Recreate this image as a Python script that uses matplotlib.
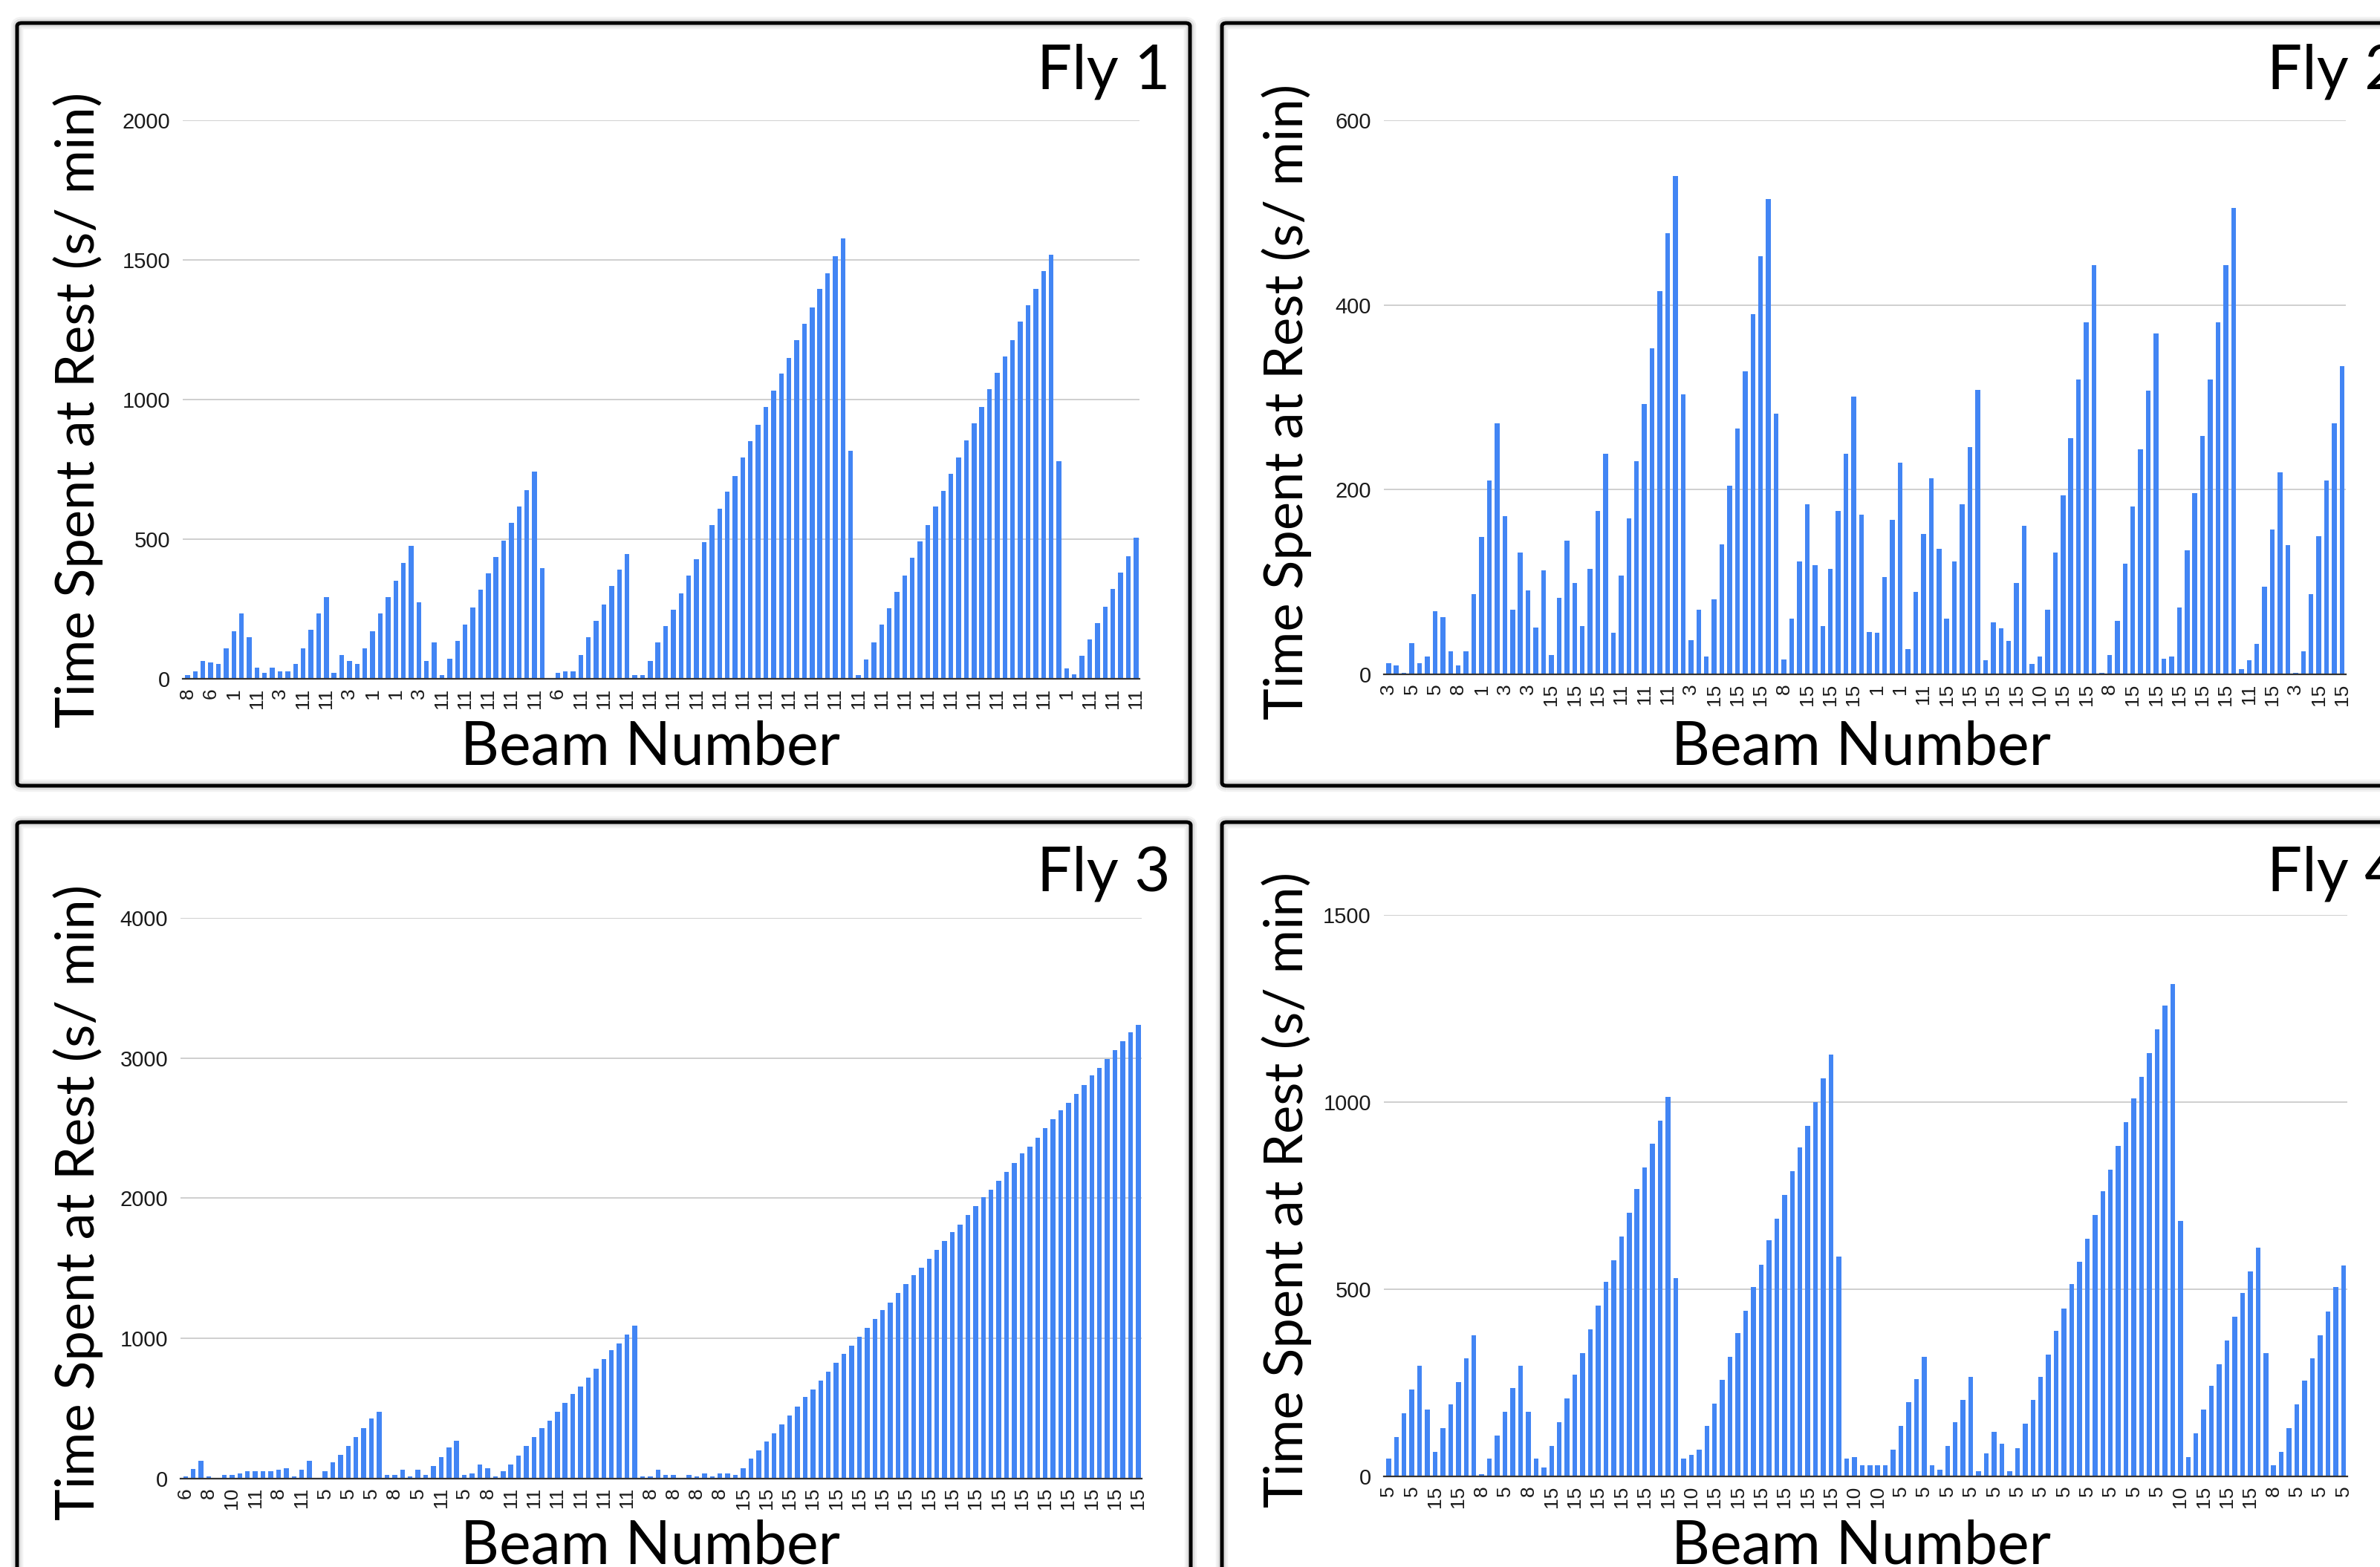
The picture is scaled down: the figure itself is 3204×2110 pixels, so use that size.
import numpy as np
import matplotlib
matplotlib.use('Agg')
import matplotlib.pyplot as plt
from matplotlib.patches import FancyBboxPatch

W, H = 3204, 2110

# ====== data (124 bars per fly, every 3rd beam labelled) ======
fly1_values = [
    13, 27, 65, 59, 53, 110, 169, 234, 150, 39,
    20, 39, 27, 27, 53, 110, 176, 234, 292, 20,
    85, 65, 53, 110, 169, 234, 292, 351, 415, 475,
    273, 65, 130, 13, 71, 136, 195, 254, 318, 377,
    435, 495, 559, 618, 676, 742, 397, 2, 20, 27,
    27, 85, 150, 208, 267, 332, 390, 448, 13, 13,
    65, 130, 189, 247, 305, 370, 429, 489, 551, 610,
    669, 727, 792, 850, 909, 974, 1033, 1092, 1150, 1214,
    1272, 1331, 1395, 1453, 1512, 1576, 817, 12, 70, 129,
    194, 252, 311, 370, 434, 493, 551, 616, 674, 733,
    792, 855, 914, 973, 1038, 1097, 1154, 1213, 1278, 1337,
    1395, 1460, 1518, 778, 38, 17, 82, 141, 200, 257,
    322, 381, 440, 504,
]
fly1_labels = (['8', '6', '1', '11', '3', '11', '11', '3', '1', '1', '3',
                '11', '11', '11', '11', '11', '6'] + ['11'] * 21
               + ['1', '11', '11', '11'])

fly2_values = [
    12, 10, 2, 34, 12, 19, 68, 62, 25, 10,
    25, 87, 149, 210, 272, 171, 70, 132, 91, 51,
    113, 21, 83, 145, 99, 52, 114, 177, 239, 45,
    107, 169, 231, 293, 353, 415, 478, 540, 303, 37,
    70, 19, 81, 141, 204, 266, 328, 390, 453, 515,
    282, 16, 60, 122, 184, 118, 52, 114, 177, 239,
    301, 173, 46, 45, 105, 167, 229, 27, 89, 152,
    212, 136, 60, 122, 184, 246, 308, 15, 56, 50,
    36, 99, 161, 11, 19, 70, 132, 194, 256, 319,
    381, 443, 2, 21, 58, 120, 182, 244, 307, 369,
    17, 19, 72, 134, 196, 258, 319, 381, 443, 505,
    6, 15, 33, 95, 157, 219, 140, 2, 25, 87,
    150, 210, 272, 334,
]
fly2_labels = ['3', '5', '5', '8', '1', '3', '3', '15', '15', '15', '11',
               '11', '11', '3', '15', '15', '15', '8', '15', '15', '15',
               '1', '1', '11', '15', '15', '15', '15', '10', '15', '15',
               '8', '15', '15', '15', '15', '15', '11', '15', '3', '15', '15']

fly3_values = [
    14, 65, 126, 14, 0, 25, 25, 37, 49, 49,
    49, 49, 61, 74, 12, 61, 126, 0, 49, 114,
    167, 230, 293, 358, 425, 474, 25, 25, 61, 12,
    61, 25, 86, 151, 218, 267, 25, 37, 98, 74,
    12, 49, 98, 163, 230, 293, 358, 411, 474, 539,
    602, 654, 719, 782, 849, 912, 963, 1028, 1091, 12,
    12, 61, 25, 25, 0, 24, 12, 36, 12, 36,
    36, 24, 71, 140, 201, 265, 320, 383, 447, 511,
    578, 632, 696, 760, 826, 890, 944, 1011, 1075, 1138,
    1202, 1254, 1321, 1385, 1449, 1501, 1564, 1631, 1695, 1759,
    1813, 1877, 1941, 2005, 2057, 2123, 2187, 2251, 2317, 2369,
    2433, 2499, 2563, 2627, 2682, 2746, 2809, 2876, 2928, 2992,
    3058, 3122, 3186, 3238,
]
fly3_labels = (['6', '8', '10', '11', '8', '11', '5', '5', '5', '8', '5',
                '11', '5', '8', '11', '11', '11', '11', '11', '11', '8', '8',
                '8', '8'] + ['15'] * 18)

fly4_values = [
    48, 106, 169, 232, 295, 179, 66, 129, 193, 252,
    315, 377, 5, 48, 110, 173, 237, 295, 173, 48,
    24, 81, 145, 209, 272, 330, 392, 456, 519, 577,
    640, 704, 767, 825, 888, 950, 1014, 529, 48, 57,
    71, 134, 195, 257, 319, 382, 442, 506, 566, 630,
    689, 752, 815, 878, 936, 1000, 1064, 1126, 587, 48,
    52, 29, 29, 29, 29, 71, 134, 198, 260, 319,
    29, 17, 81, 145, 204, 265, 14, 62, 120, 87,
    14, 76, 140, 204, 265, 326, 388, 449, 513, 573,
    635, 698, 761, 820, 883, 946, 1009, 1067, 1131, 1194,
    1257, 1316, 683, 52, 115, 178, 243, 300, 363, 427,
    490, 548, 611, 330, 29, 66, 129, 193, 256, 315,
    377, 441, 505, 563,
]
fly4_labels = ['5', '5', '15', '15', '8', '5', '8', '15', '15', '15', '15',
               '15', '15', '10', '15', '15', '15', '15', '15', '15', '10',
               '10', '5', '5', '5', '5', '5', '5', '5', '5', '5',
               '5', '5', '5', '10', '15', '15', '15', '8', '5', '5', '5']

fly1_yticks = [0, 500, 1000, 1500, 2000]
fly2_yticks = [0, 200, 400, 600]
fly3_yticks = [0, 1000, 2000, 3000, 4000]
fly4_yticks = [0, 500, 1000, 1500]

titles = ['Fly 1', 'Fly 2', 'Fly 3', 'Fly 4']
BLUE = '#4285F4'
BIG_FONT = 'Lato'
TICK_FONT = 'Liberation Sans'


def fx(px):
    return px / W


def fy(py):
    return 1 - py / H


def add_frame(fig, x0, y0, x1, y1):
    """黑色面板边框 + 淡灰阴影"""
    for lw, a in [(12, 0.05), (8, 0.08)]:
        fig.patches.append(FancyBboxPatch(
            (fx(x0), fy(y1)), fx(x1 - x0), (y1 - y0) / H,
            boxstyle='round,pad=0,rounding_size=0.002', transform=fig.transFigure,
            fill=False, lw=lw, ec='black', alpha=a, zorder=0))
    fig.patches.append(FancyBboxPatch(
        (fx(x0), fy(y1)), fx(x1 - x0), (y1 - y0) / H,
        boxstyle='round,pad=0,rounding_size=0.002', transform=fig.transFigure,
        fill=False, lw=3.6, ec='black', zorder=1))


def draw_panel(fig, box, values, labels, yticks):
    left, top, right, bottom = box
    ax = fig.add_axes([fx(left), fy(bottom), fx(right - left), (bottom - top) / H])
    x = np.arange(len(values))
    ax.bar(x, values, width=0.62, color=BLUE, zorder=3)
    ax.set_xlim(-0.65, 123.45)
    ax.set_ylim(0, yticks[-1])
    ax.set_yticks(yticks)
    ax.set_yticklabels([str(t) for t in yticks], fontfamily=TICK_FONT)
    ax.set_xticks(x[::3])
    ax.set_xticklabels(labels, rotation=90, fontfamily=TICK_FONT)
    ax.tick_params(axis='y', length=0, pad=12, labelsize=21, colors='#1a1a1a')
    ax.tick_params(axis='x', length=0, pad=9, labelsize=19, colors='#1a1a1a')
    ax.yaxis.grid(True, color='#cccccc', lw=1.3)
    ax.set_axisbelow(True)
    for s in ax.spines.values():
        s.set_visible(False)
    ax.axhline(0, color='#333333', lw=1.6, zorder=4, clip_on=False)
    return ax


fig = plt.figure(figsize=(W / 100, H / 100), dpi=100)
fig.patch.set_facecolor('white')

# 面板外框 (像素坐标)
add_frame(fig, 23, 31, 1602, 1058)
add_frame(fig, 1645, 31, 3230, 1058)
add_frame(fig, 23, 1107, 1603, 2140)
add_frame(fig, 1645, 1107, 3230, 2140)

# 绘图区 (left, top, right, bottom) 像素
boxes = [(245.7, 162, 1534, 914), (1862.5, 162, 3157.7, 908),
         (243, 1236, 1537, 1990.5), (1862.5, 1232, 3159.5, 1988)]
all_values = [fly1_values, fly2_values, fly3_values, fly4_values]
all_labels = [fly1_labels, fly2_labels, fly3_labels, fly4_labels]
all_yticks = [fly1_yticks, fly2_yticks, fly3_yticks, fly4_yticks]

for box, vals, labs, yt in zip(boxes, all_values, all_labels, all_yticks):
    draw_panel(fig, box, vals, labs, yt)

# 标题 / 轴标签
title_pos = [(1575, 120, 'right'), (3052, 120, 'left'),
             (1575, 1199, 'right'), (3052, 1199, 'left')]
for (tx, ty, ha), t in zip(title_pos, titles):
    fig.text(fx(tx), fy(ty), t, ha=ha, va='baseline', fontsize=60,
             fontfamily=BIG_FONT, color='black')

for cx, by in [(875, 1029), (2505, 1029), (875, 2106), (2505, 2106)]:
    fig.text(fx(cx), fy(by), 'Beam Number', ha='center', va='baseline',
             fontsize=58, fontfamily=BIG_FONT, color='black')

for cx, cy in [(105, 552), (1732, 541), (105, 1619), (1732, 1602)]:
    fig.text(fx(cx), fy(cy), 'Time Spent at Rest (s/ min)', rotation=90,
             ha='center', va='center', fontsize=52, fontfamily=BIG_FONT,
             color='black')

fig.savefig('out.png', dpi=100, facecolor='white')
